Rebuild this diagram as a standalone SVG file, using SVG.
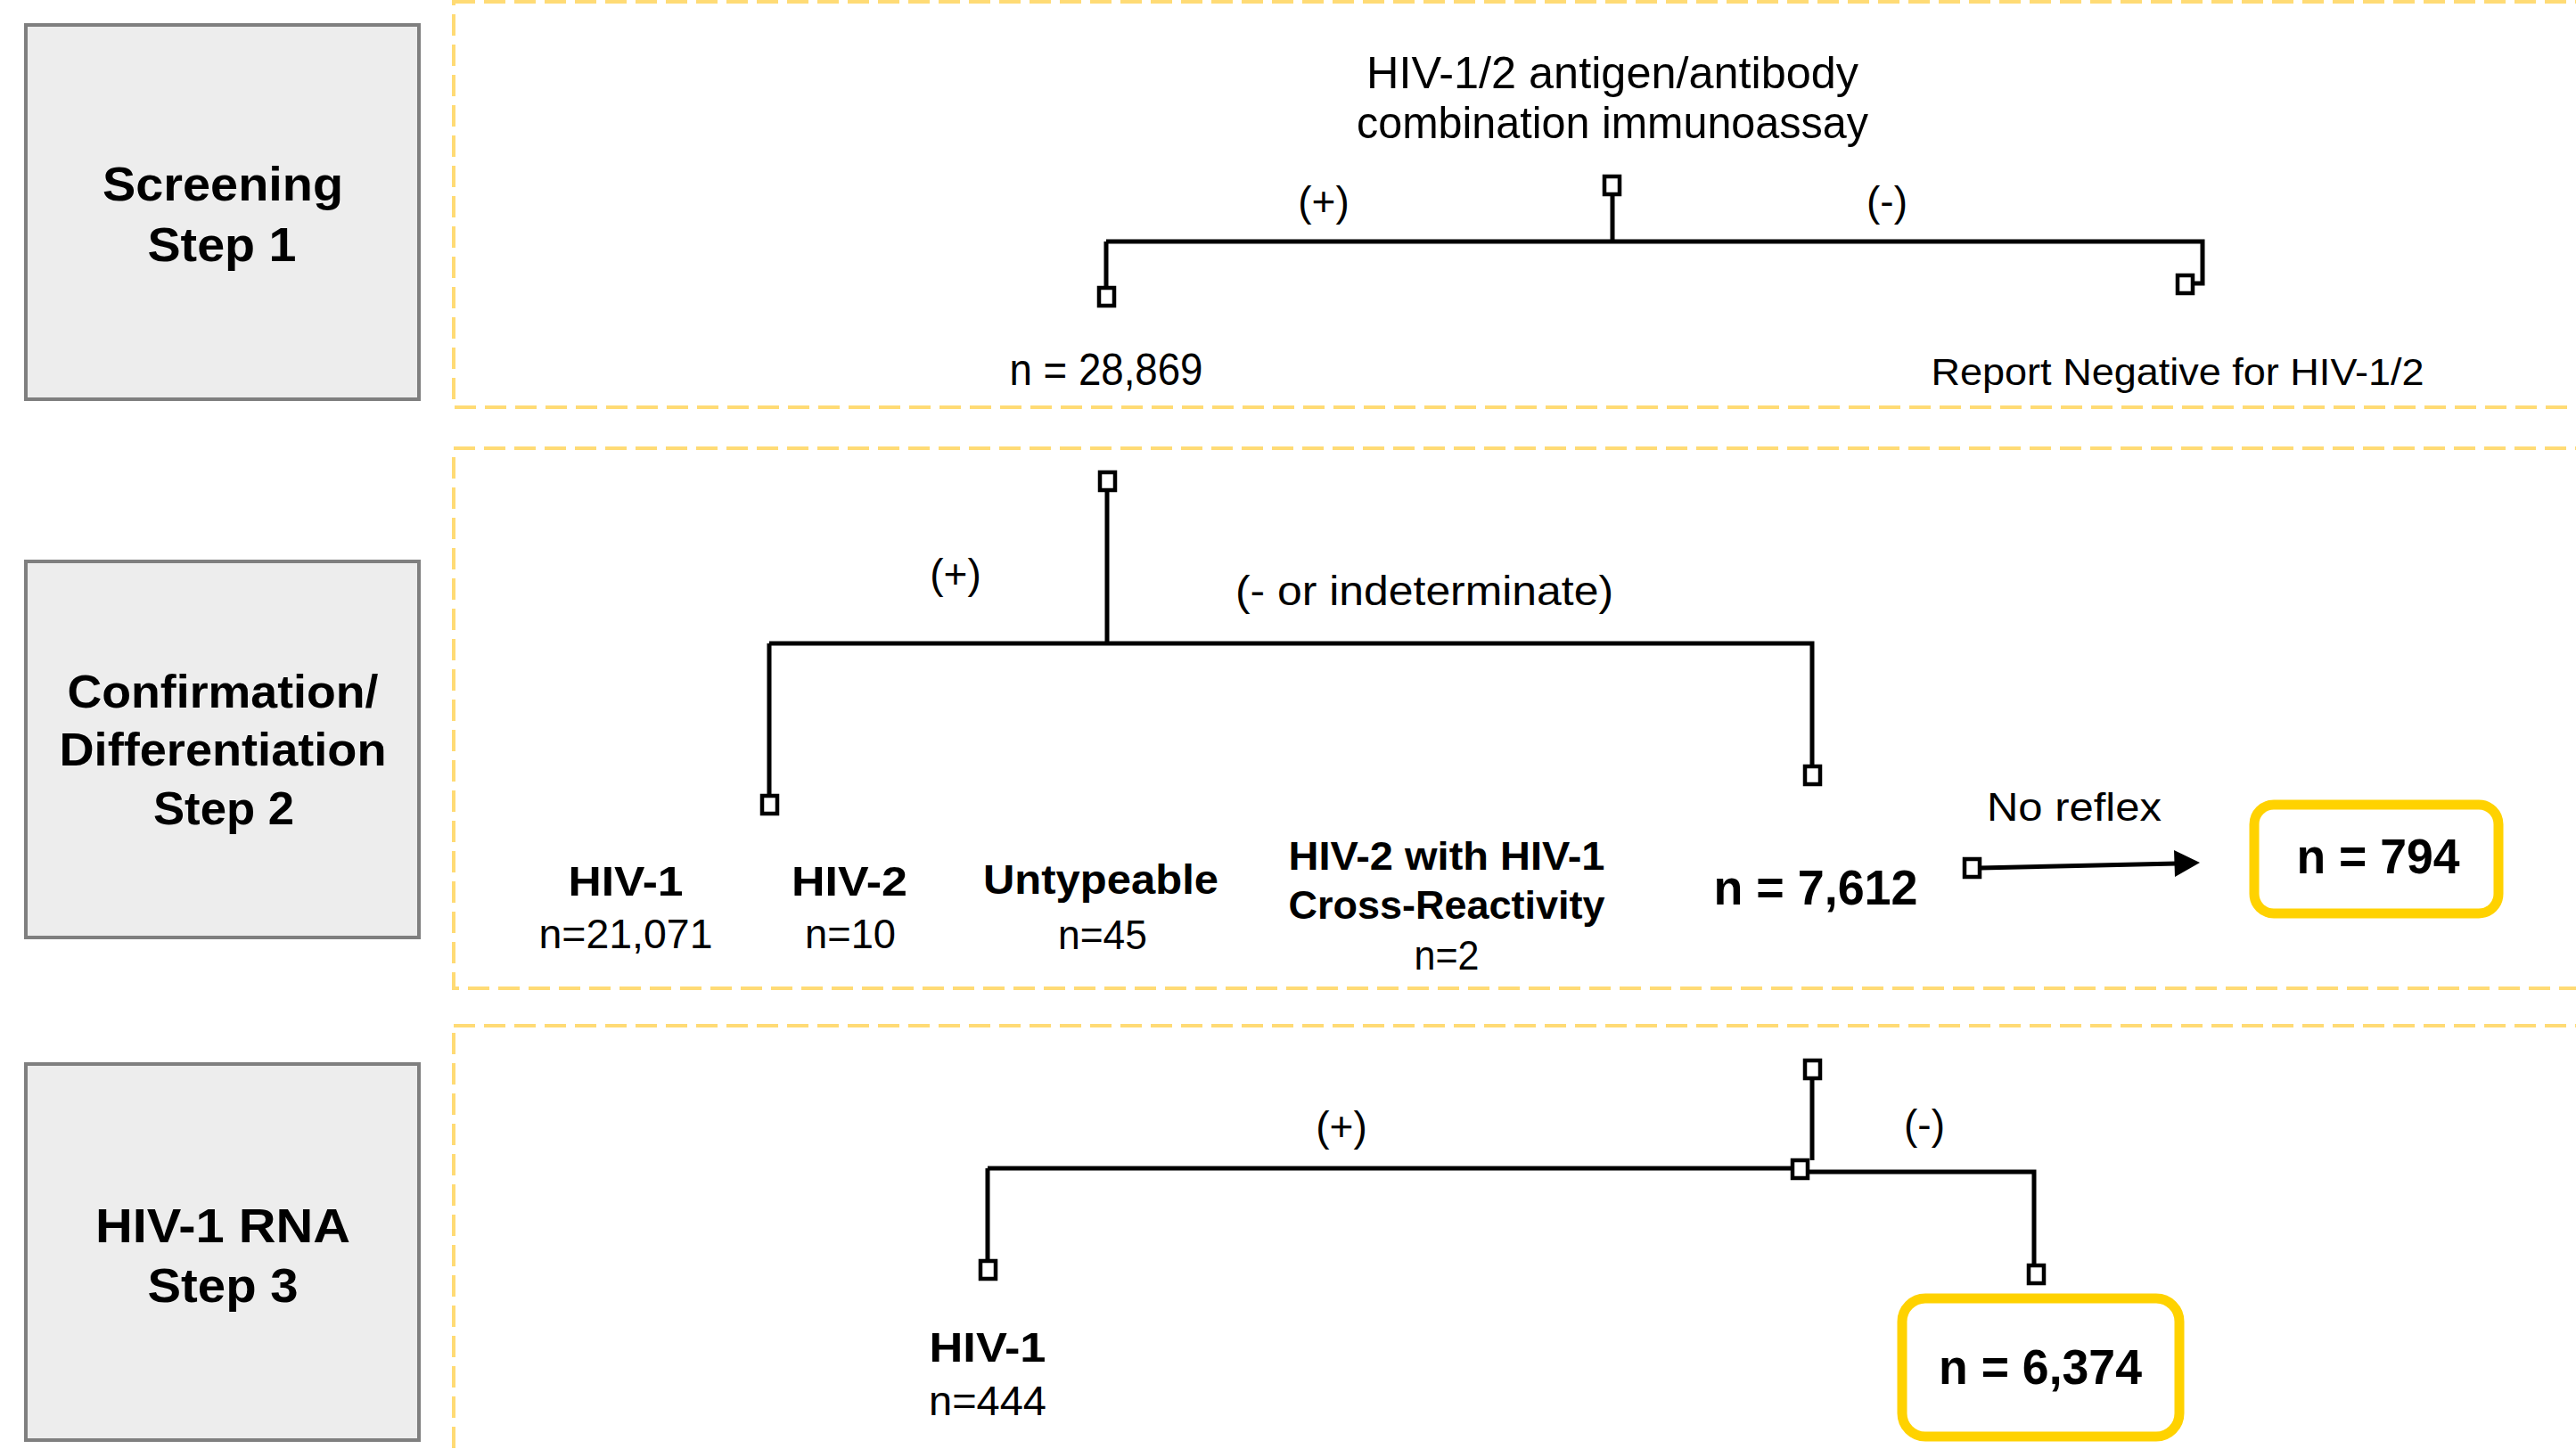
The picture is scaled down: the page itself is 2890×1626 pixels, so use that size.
<svg xmlns="http://www.w3.org/2000/svg" width="2890" height="1626" viewBox="0 0 2890 1626">
<style>
text{font-family:"Liberation Sans",Arial,sans-serif;fill:#000;text-anchor:middle}
.b{font-weight:bold}
.step{fill:#EDEDED;stroke:#7F7F7F;stroke-width:4}
.panel{fill:none;stroke:#FFDB75;stroke-width:4;stroke-dasharray:24 10}
.ln{fill:none;stroke:#000;stroke-width:5}
.sq{fill:#fff;stroke:#000;stroke-width:4.5}
.hl{fill:#fff;stroke:#FFD200;stroke-width:11}
</style>
<rect width="2890" height="1626" fill="#fff"/>

<g id="panels">
<rect class="panel" x="509" y="2" width="2420" height="455"/>
<rect class="panel" x="509" y="503" width="2420" height="606"/>
<rect class="panel" x="509" y="1151" width="2420" height="520"/>
</g>

<g id="step1">
<rect class="step" x="29" y="28" width="441" height="420"/>
<text class="b" x="250" y="225" font-size="54" textLength="270" lengthAdjust="spacingAndGlyphs">Screening</text>
<text class="b" x="249" y="293" font-size="54" textLength="167" lengthAdjust="spacingAndGlyphs">Step 1</text>
</g>
<g id="step2">
<rect class="step" x="29" y="630" width="441" height="422"/>
<text class="b" x="250" y="794" font-size="52" textLength="349" lengthAdjust="spacingAndGlyphs">Confirmation/</text>
<text class="b" x="250" y="859" font-size="52" textLength="367" lengthAdjust="spacingAndGlyphs">Differentiation</text>
<text class="b" x="251" y="925" font-size="52" textLength="158" lengthAdjust="spacingAndGlyphs">Step 2</text>
</g>
<g id="step3">
<rect class="step" x="29" y="1194" width="441" height="422"/>
<text class="b" x="250" y="1394" font-size="54" textLength="286" lengthAdjust="spacingAndGlyphs">HIV-1 RNA</text>
<text class="b" x="250" y="1461" font-size="54" textLength="169" lengthAdjust="spacingAndGlyphs">Step 3</text>
</g>

<g id="connectors">
<!-- step 1 -->
<path class="ln" d="M1809,218 V271 M1241,271 H2471 V318 H2460 M1241,271 V323"/>
<!-- step 2 -->
<path class="ln" d="M1242,550 V722 M863,722 H2033 V860 M863,722 V893"/>
<path class="ln" d="M2221,974 L2442,969"/>
<polygon points="2468,968 2439,954 2440,984" fill="#000"/>
<!-- step 3 -->
<path class="ln" d="M2033,1210 V1302 M1108,1311 H2011 M2029,1315 H2282 V1420 M1108,1311 V1415"/>
</g>

<g id="n1_test">
<text x="1809" y="99" font-size="50" textLength="552" lengthAdjust="spacingAndGlyphs">HIV-1/2 antigen/antibody</text>
<text x="1809" y="155" font-size="50" textLength="574" lengthAdjust="spacingAndGlyphs">combination immunoassay</text>
<rect class="sq" x="1800" y="198" width="17" height="20"/>
</g>
<g id="n1_pos">
<rect class="sq" x="1233" y="323" width="17" height="20"/>
<text x="1241" y="432" font-size="50" textLength="217" lengthAdjust="spacingAndGlyphs">n = 28,869</text>
</g>
<g id="n1_neg">
<rect class="sq" x="2443" y="309" width="17" height="20"/>
<text x="2443" y="432" font-size="42" textLength="553" lengthAdjust="spacingAndGlyphs">Report Negative for HIV-1/2</text>
</g>
<g id="labels1">
<text x="1485" y="242" font-size="46">(+)</text>
<text x="2117" y="242" font-size="46">(-)</text>
</g>

<g id="n2_test">
<rect class="sq" x="1234" y="530" width="17" height="20"/>
</g>
<g id="n2_pos">
<rect class="sq" x="855" y="893" width="17" height="20"/>
<text class="b" x="702" y="1005" font-size="46" textLength="129" lengthAdjust="spacingAndGlyphs">HIV-1</text>
<text x="702" y="1064" font-size="47" textLength="195" lengthAdjust="spacingAndGlyphs">n=21,071</text>
<text class="b" x="953" y="1005" font-size="46" textLength="130" lengthAdjust="spacingAndGlyphs">HIV-2</text>
<text x="954" y="1064" font-size="47" textLength="102" lengthAdjust="spacingAndGlyphs">n=10</text>
<text class="b" x="1235" y="1003" font-size="46" textLength="264" lengthAdjust="spacingAndGlyphs">Untypeable</text>
<text x="1237" y="1065" font-size="47" textLength="100" lengthAdjust="spacingAndGlyphs">n=45</text>
<text class="b" x="1623" y="976" font-size="44" textLength="355" lengthAdjust="spacingAndGlyphs">HIV-2 with HIV-1</text>
<text class="b" x="1623" y="1031" font-size="44" textLength="355" lengthAdjust="spacingAndGlyphs">Cross-Reactivity</text>
<text x="1623" y="1088" font-size="46" textLength="73" lengthAdjust="spacingAndGlyphs">n=2</text>
</g>
<g id="n2_neg">
<rect class="sq" x="2025" y="860" width="17" height="20"/>
<text class="b" x="2037" y="1015" font-size="56" textLength="229" lengthAdjust="spacingAndGlyphs">n = 7,612</text>
<rect class="sq" x="2204" y="964" width="17" height="20"/>
<text x="2327" y="921" font-size="44" textLength="196" lengthAdjust="spacingAndGlyphs">No reflex</text>
</g>
<g id="n2_noreflex">
<rect class="hl" x="2529" y="903" width="274" height="122" rx="22"/>
<text class="b" x="2668" y="980" font-size="56" textLength="183" lengthAdjust="spacingAndGlyphs">n = 794</text>
</g>
<g id="labels2">
<text x="1072" y="660" font-size="46">(+)</text>
<text x="1598" y="679" font-size="46" textLength="424" lengthAdjust="spacingAndGlyphs">(- or indeterminate)</text>
</g>

<g id="n3_test">
<rect class="sq" x="2025" y="1190" width="17" height="20"/>
<rect class="sq" x="2011" y="1302" width="17" height="20"/>
</g>
<g id="n3_pos">
<rect class="sq" x="1100" y="1415" width="17" height="20"/>
<text class="b" x="1108" y="1528" font-size="47" textLength="131" lengthAdjust="spacingAndGlyphs">HIV-1</text>
<text x="1108" y="1588" font-size="47" textLength="132" lengthAdjust="spacingAndGlyphs">n=444</text>
</g>
<g id="n3_neg">
<rect class="sq" x="2276" y="1420" width="17" height="20"/>
<rect class="hl" x="2134" y="1457" width="311" height="155" rx="26"/>
<text class="b" x="2289" y="1553" font-size="56" textLength="228" lengthAdjust="spacingAndGlyphs">n = 6,374</text>
</g>
<g id="labels3">
<text x="1505" y="1280" font-size="46">(+)</text>
<text x="2159" y="1278" font-size="46">(-)</text>
</g>
</svg>
